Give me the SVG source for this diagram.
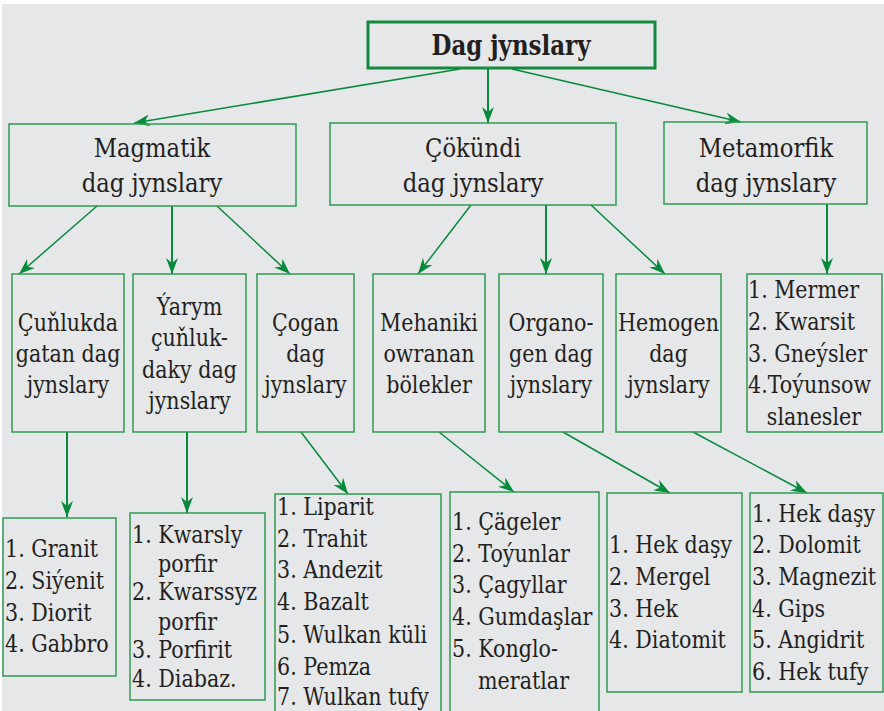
<svg xmlns="http://www.w3.org/2000/svg" width="884" height="711" viewBox="0 0 884 711">
<style>
.bg{fill:#e6e7e9}
.box{fill:none;stroke:#2f9a52;stroke-width:1.5}
.top{fill:none;stroke:#138a3f;stroke-width:3}
text{font-family:'DejaVu Serif','Liberation Serif',serif;fill:#231f20}
.t1{font-size:27px;font-weight:bold;text-anchor:middle}
.t2{font-size:26px;text-anchor:middle}
.t3{font-size:24px;text-anchor:middle}
.l{font-size:24px}
.c line{stroke:#078a3c;stroke-width:1.5;marker-end:url(#ah)}
.c line.v{stroke-width:2}
</style>
<defs>
<marker id="ah" viewBox="0 0 16 12" refX="16" refY="6" markerWidth="16" markerHeight="12" markerUnits="userSpaceOnUse" orient="auto">
<path d="M0,0 L16,6 L0,12 L5,6 Z" fill="#078a3c"/>
</marker>
</defs>
<rect x="0" y="0" width="884" height="711" fill="#ffffff"/>
<rect class="bg" x="2" y="4" width="882" height="707"/>

<g class="c" id="connectors">
<line x1="460" y1="69" x2="134" y2="123"/>
<line class="v" x1="488" y1="69" x2="488" y2="123"/>
<line x1="512" y1="69" x2="741" y2="122"/>
<line x1="97" y1="206" x2="19" y2="274"/>
<line class="v" x1="172" y1="206" x2="172" y2="274"/>
<line x1="217" y1="206" x2="290" y2="274"/>
<line x1="471" y1="205" x2="418" y2="274"/>
<line class="v" x1="546" y1="205" x2="546" y2="274"/>
<line x1="591" y1="205" x2="665" y2="274"/>
<line class="v" x1="827" y1="204" x2="827" y2="274"/>
<line class="v" x1="67" y1="432" x2="67" y2="517"/>
<line class="v" x1="187" y1="432" x2="187" y2="513"/>
<line x1="301" y1="432" x2="348" y2="494"/>
<line x1="439" y1="432" x2="514" y2="492"/>
<line x1="563" y1="432" x2="670" y2="493"/>
<line x1="693" y1="432" x2="807" y2="493"/>
</g>

<g id="root">
<rect class="top" x="368" y="22" width="287" height="46"/>
<text class="t1" transform="translate(511,55) scale(0.85,1)">Dag jynslary</text>
</g>

<g id="magmatik">
<rect class="box" x="9" y="124" width="287" height="82"/>
<text class="t2" transform="translate(152,157) scale(0.875,1)">Magmatik</text>
<text class="t2" transform="translate(152,192) scale(0.875,1)">dag jynslary</text>
</g>
<g id="cokundi">
<rect class="box" x="330" y="123" width="286" height="82"/>
<text class="t2" transform="translate(473,157) scale(0.875,1)">Çökündi</text>
<text class="t2" transform="translate(473,192) scale(0.875,1)">dag jynslary</text>
</g>
<g id="metamorfik">
<rect class="box" x="664" y="122" width="203" height="82"/>
<text class="t2" transform="translate(766,157) scale(0.875,1)">Metamorfik</text>
<text class="t2" transform="translate(766,192) scale(0.875,1)">dag jynslary</text>
</g>

<g id="cunlukda">
<rect class="box" x="12" y="274" width="112" height="158"/>
<text class="t3" transform="translate(68,331) scale(0.86,1)">Çuňlukda</text>
<text class="t3" transform="translate(68,362) scale(0.86,1)">gatan dag</text>
<text class="t3" transform="translate(68,393) scale(0.86,1)">jynslary</text>
</g>
<g id="yarym">
<rect class="box" x="133" y="274" width="113" height="158"/>
<text class="t3" transform="translate(189.5,315) scale(0.86,1)">Ýarym</text>
<text class="t3" transform="translate(189.5,346) scale(0.86,1)">çuňluk-</text>
<text class="t3" transform="translate(189.5,378) scale(0.86,1)">daky dag</text>
<text class="t3" transform="translate(189.5,409) scale(0.86,1)">jynslary</text>
</g>
<g id="cogan">
<rect class="box" x="257" y="274" width="97" height="158"/>
<text class="t3" transform="translate(305.5,331) scale(0.86,1)">Çogan</text>
<text class="t3" transform="translate(305.5,362) scale(0.86,1)">dag</text>
<text class="t3" transform="translate(305.5,393) scale(0.86,1)">jynslary</text>
</g>
<g id="mehaniki">
<rect class="box" x="373" y="274" width="112" height="158"/>
<text class="t3" transform="translate(429,331) scale(0.86,1)">Mehaniki</text>
<text class="t3" transform="translate(429,362) scale(0.86,1)">owranan</text>
<text class="t3" transform="translate(429,393) scale(0.86,1)">bölekler</text>
</g>
<g id="organogen">
<rect class="box" x="499" y="274" width="104" height="158"/>
<text class="t3" transform="translate(551,331) scale(0.86,1)">Organo-</text>
<text class="t3" transform="translate(551,362) scale(0.86,1)">gen dag</text>
<text class="t3" transform="translate(551,393) scale(0.86,1)">jynslary</text>
</g>
<g id="hemogen">
<rect class="box" x="616" y="274" width="105" height="158"/>
<text class="t3" transform="translate(668.5,331) scale(0.86,1)">Hemogen</text>
<text class="t3" transform="translate(668.5,362) scale(0.86,1)">dag</text>
<text class="t3" transform="translate(668.5,393) scale(0.86,1)">jynslary</text>
</g>
<g id="metamorfik-list">
<rect class="box" x="747" y="274" width="135" height="158"/>
<text class="l" transform="translate(748,298) scale(0.86,1)">1. Mermer</text>
<text class="l" transform="translate(748,330) scale(0.86,1)">2. Kwarsit</text>
<text class="l" transform="translate(748,362) scale(0.86,1)">3. Gneýsler</text>
<text class="l" transform="translate(748,393) scale(0.86,1)">4.Toýunsow</text>
<text class="t3" transform="translate(814,425) scale(0.86,1)">slanesler</text>
</g>

<g id="list-cunlukda">
<rect class="box" x="3" y="518" width="113" height="158"/>
<text class="l" transform="translate(5,557) scale(0.86,1)">1. Granit</text>
<text class="l" transform="translate(5,589) scale(0.86,1)">2. Siýenit</text>
<text class="l" transform="translate(5,621) scale(0.86,1)">3. Diorit</text>
<text class="l" transform="translate(5,652) scale(0.86,1)">4. Gabbro</text>
</g>
<g id="list-yarym">
<rect class="box" x="130" y="513" width="135" height="187"/>
<text class="l" transform="translate(132,543) scale(0.86,1)">1. Kwarsly</text>
<text class="l" transform="translate(158,572) scale(0.86,1)">porfir</text>
<text class="l" transform="translate(132,600) scale(0.86,1)">2. Kwarssyz</text>
<text class="l" transform="translate(158,630) scale(0.86,1)">porfir</text>
<text class="l" transform="translate(132,658) scale(0.86,1)">3. Porfirit</text>
<text class="l" transform="translate(132,687) scale(0.86,1)">4. Diabaz.</text>
</g>
<g id="list-cogan">
<rect class="box" x="275" y="494" width="166" height="222"/>
<text class="l" transform="translate(277,515) scale(0.86,1)">1. Liparit</text>
<text class="l" transform="translate(277,547) scale(0.86,1)">2. Trahit</text>
<text class="l" transform="translate(277,578) scale(0.86,1)">3. Andezit</text>
<text class="l" transform="translate(277,610) scale(0.86,1)">4. Bazalt</text>
<text class="l" transform="translate(277,643) scale(0.86,1)">5. Wulkan küli</text>
<text class="l" transform="translate(277,675) scale(0.86,1)">6. Pemza</text>
<text class="l" transform="translate(277,705) scale(0.86,1)">7. Wulkan tufy</text>
</g>
<g id="list-mehaniki">
<rect class="box" x="450" y="492" width="149" height="224"/>
<text class="l" transform="translate(452,530) scale(0.86,1)">1. Çägeler</text>
<text class="l" transform="translate(452,562) scale(0.86,1)">2. Toýunlar</text>
<text class="l" transform="translate(452,593) scale(0.86,1)">3. Çagyllar</text>
<text class="l" transform="translate(452,625) scale(0.86,1)">4. Gumdaşlar</text>
<text class="l" transform="translate(452,657) scale(0.86,1)">5. Konglo-</text>
<text class="l" transform="translate(478,689) scale(0.86,1)">meratlar</text>
</g>
<g id="list-organogen">
<rect class="box" x="607" y="493" width="135" height="199"/>
<text class="l" transform="translate(609,553) scale(0.86,1)">1. Hek daşy</text>
<text class="l" transform="translate(609,585) scale(0.86,1)">2. Mergel</text>
<text class="l" transform="translate(609,617) scale(0.86,1)">3. Hek</text>
<text class="l" transform="translate(609,648) scale(0.86,1)">4. Diatomit</text>
</g>
<g id="list-hemogen">
<rect class="box" x="750" y="493" width="133" height="199"/>
<text class="l" transform="translate(752,522) scale(0.86,1)">1. Hek daşy</text>
<text class="l" transform="translate(752,553) scale(0.86,1)">2. Dolomit</text>
<text class="l" transform="translate(752,585) scale(0.86,1)">3. Magnezit</text>
<text class="l" transform="translate(752,617) scale(0.86,1)">4. Gips</text>
<text class="l" transform="translate(752,648) scale(0.86,1)">5. Angidrit</text>
<text class="l" transform="translate(752,680) scale(0.86,1)">6. Hek tufy</text>
</g>
</svg>
